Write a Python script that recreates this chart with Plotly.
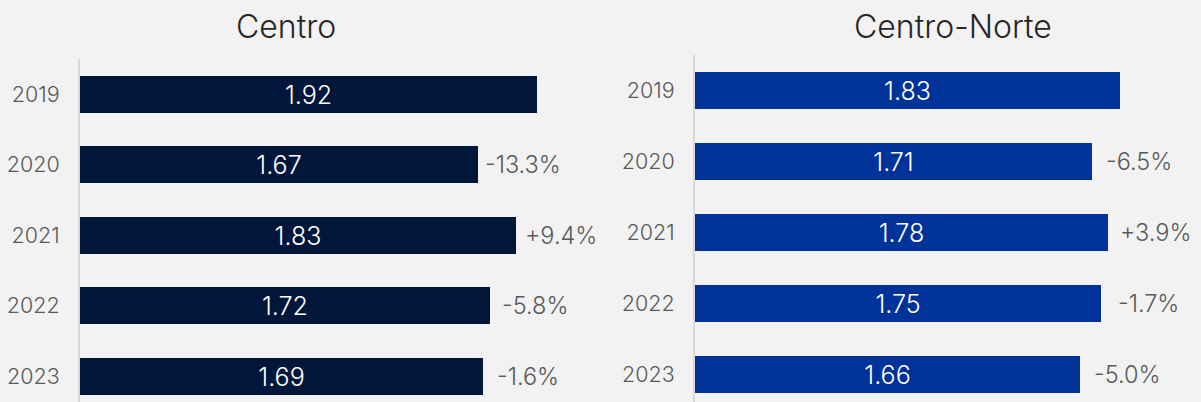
import plotly.graph_objects as go

years = ["2019", "2020", "2021", "2022", "2023"]
centro = [1.92, 1.67, 1.83, 1.72, 1.69]
centro_pct = ["", "-13.3%", "+9.4%", "-5.8%", "-1.6%"]
centro_norte = [1.83, 1.71, 1.78, 1.75, 1.66]
centro_norte_pct = ["", "-6.5%", "+3.9%", "-1.7%", "-5.0%"]

FONT = "Inter"
BG = "#f2f2f2"
C1 = "#00163a"
C2 = "#003399"
GRAY = "#595959"
W = 300

fig = go.Figure()
fig.add_trace(go.Bar(
    x=centro, y=years, orientation="h", width=0.53,
    marker=dict(color=C1, line=dict(width=0)),
    texttemplate="%{x:.2f}", textposition="inside", insidetextanchor="middle",
    textfont=dict(family=FONT, size=27.5, color="white", weight=W),
    xaxis="x", yaxis="y", hoverinfo="skip", cliponaxis=False,
))
fig.add_trace(go.Bar(
    x=centro_norte, y=years, orientation="h", width=0.53,
    marker=dict(color=C2, line=dict(width=0)),
    texttemplate="%{x:.2f}", textposition="inside", insidetextanchor="middle",
    textfont=dict(family=FONT, size=27.5, color="white", weight=W),
    xaxis="x2", yaxis="y2", hoverinfo="skip", cliponaxis=False,
))

annotations = []
for i, (v, t) in enumerate(zip(centro, centro_pct)):
    if t:
        annotations.append(dict(x=v, y=i, xref="x", yref="y", text=t, showarrow=False,
                                xanchor="center", xshift=45,
                                font=dict(family=FONT, size=23.5, color=GRAY, weight=W)))
for i, (v, t) in enumerate(zip(centro_norte, centro_norte_pct)):
    if t:
        annotations.append(dict(x=v, y=i, xref="x2", yref="y2", text=t, showarrow=False,
                                xanchor="center", xshift=47,
                                font=dict(family=FONT, size=23.5, color=GRAY, weight=W)))
annotations.append(dict(x=286/1201, y=1-27/402, xref="paper", yref="paper", text="Centro",
                        showarrow=False, xanchor="center", yanchor="middle",
                        font=dict(family=FONT, size=32, color="#262626", weight=W)))
annotations.append(dict(x=953/1201, y=1-27/402, xref="paper", yref="paper", text="Centro-Norte",
                        showarrow=False, xanchor="center", yanchor="middle",
                        font=dict(family=FONT, size=32, color="#262626", weight=W)))

yax = dict(showline=True, linecolor="#d9d9d9", linewidth=2, showgrid=False, zeroline=False,
           ticks="outside", ticklen=14, tickcolor="rgba(0,0,0,0)",
           tickfont=dict(family=FONT, size=21.5, color=GRAY, weight=W),
           type="category", fixedrange=True)
xax = dict(visible=False, showgrid=False, zeroline=False, fixedrange=True)

fig.update_layout(
    width=1201, height=402,
    margin=dict(l=0, r=0, t=0, b=0),
    paper_bgcolor=BG, plot_bgcolor=BG,
    showlegend=False,
    xaxis=dict(**xax, domain=[80/1201, 604/1201], range=[0, 2.2]),
    xaxis2=dict(**xax, domain=[695/1201, 1194/1201], range=[0, 2.15]),
    yaxis=dict(**yax, domain=[0, 1-59/402], range=[4.365, -0.5], anchor="x"),
    yaxis2=dict(**yax, domain=[0, 1-55/402], range=[4.387, -0.5], anchor="x2"),
    annotations=annotations,
    bargap=0,
)

fig.write_html("out.html", config={"displayModeBar": False},
               post_script="document.body.style.margin='0';document.body.style.background='#f2f2f2';")
